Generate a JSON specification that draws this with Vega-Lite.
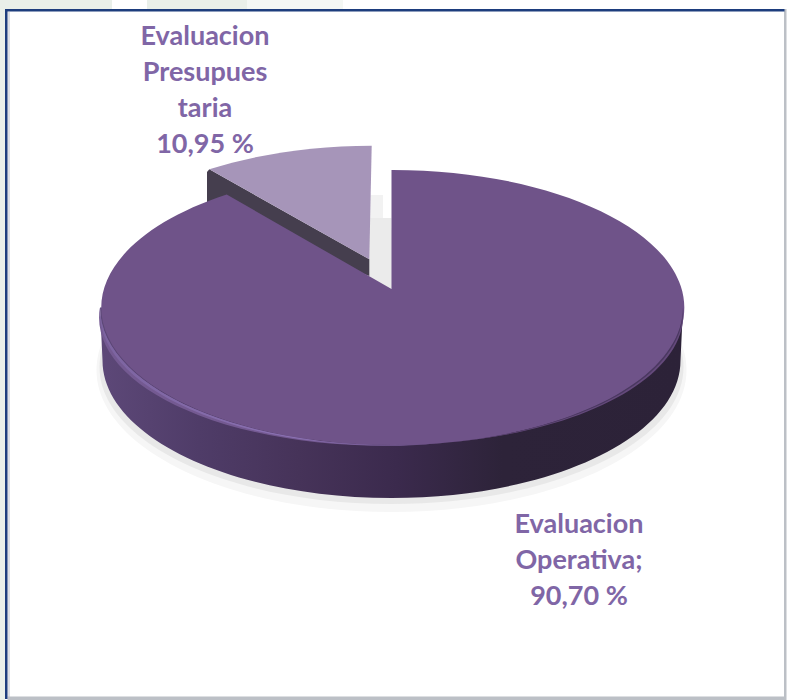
{
"$schema":"https://vega.github.io/schema/vega-lite/v6.json",
"width":787,"height":700,"padding":0,"autosize":"none","background":"#ffffff",
"config":{"view":{"stroke":null}},
"data":{"values":[
{"categoria":"Evaluacion Operativa","valor":90.70,"etiqueta":["Evaluacion","Operativa;","90,70 %"]},
{"categoria":"Evaluacion Presupuestaria","valor":10.95,"etiqueta":["Evaluacion","Presupues","taria","10,95 %"]}
]},
"layer":[
{"transform":[{"filter":"datum.valor>50"}],"mark":{"type":"point","filled":true,"opacity":1,"size":4,"strokeWidth":0,"fill":"#e9efe9","shape":"M-393.5,-350 H-388.5 V350 H-393.5 Z M-388.5,-350 H-281.5 V-341 H-388.5 Z M-246.5,-350 H-146.5 V-341 H-246.5 Z"}},
{"transform":[{"filter":"datum.valor>50"}],"mark":{"type":"point","filled":true,"opacity":1,"size":4,"strokeWidth":0,"fill":"#f4f7f4","shape":"M-146.5,-350 H-50.5 V-341 H-146.5 Z"}},
{"transform":[{"filter":"datum.valor>50"}],"mark":{"type":"point","filled":true,"opacity":1,"size":4,"strokeWidth":0,"fill":"#dcdfe4","shape":"M-386,-338 H-383.5 V347 H-386 Z"}},
{"transform":[{"filter":"datum.valor>50"}],"mark":{"type":"point","filled":true,"opacity":1,"size":4,"strokeWidth":0,"fill":"#bcc0c6","shape":"M390.5,-341 H393 V350 H390.5 Z M-386,346.5 H393 V350 H-386 Z"}},
{"transform":[{"filter":"datum.valor>50"}],"mark":{"type":"point","filled":true,"opacity":1,"size":4,"strokeWidth":0,"fill":"#1d3d7d","shape":"M-388.5,-341 H-386 V349 H-388.5 Z M-388.5,-341 H391 V-338.5 H-388.5 Z"}},
{"transform":[{"filter":"datum.valor>50"}],"mark":{"type":"point","filled":true,"opacity":1,"size":4,"strokeWidth":0,"fill":"#f6f6f6","shape":"M-297,20 A295,142 0 1 0 293,20 A295,142 0 1 0 -297,20 Z"}},
{"transform":[{"filter":"datum.valor>50"}],"mark":{"type":"point","filled":true,"opacity":1,"size":4,"strokeWidth":0,"fill":"#e8e8e8","shape":"M-294,17 A292,137 0 1 0 290,17 A292,137 0 1 0 -294,17 Z"}},
{"transform":[{"filter":"datum.valor<50"}],"mark":{"type":"point","filled":true,"opacity":1,"size":4,"strokeWidth":0,"fill":"#f2f2f2","shape":"M-23.5,-155 H-10.5 V-130 H-23.5 Z"}},
{"transform":[{"filter":"datum.valor<50"}],"mark":{"type":"point","filled":true,"opacity":1,"size":4,"strokeWidth":0,"fill":"#ebebeb","shape":"M-24.5,-132 H-2 V-61 L-24.5,-74 Z"}},
{"transform":[{"filter":"datum.valor<50"}],"mark":{"type":"point","filled":true,"opacity":1,"size":4,"strokeWidth":0,"fill":"#453e4e","shape":"M-186.5,-178 L-184.2,-180.7 L-24.2,-90.7 L-24.2,-74 L-186.5,-135 Z"}},
{"transform":[{"filter":"datum.valor>50"}],"mark":{"type":"point","filled":true,"opacity":1,"size":4,"strokeWidth":0,
 "fill":{"gradient":"linear","x1":0,"y1":0,"x2":1,"y2":0,"stops":[{"offset":0,"color":"#5d4878"},{"offset":0.17,"color":"#4f3c68"},{"offset":0.34,"color":"#463359"},{"offset":0.51,"color":"#3b2a4d"},{"offset":0.69,"color":"#2d2339"},{"offset":1,"color":"#2c2238"}]},
 "shape":"M-293.5,-42.5 L-291,10.5 A289,137.5 0 0 0 287,10.5 L289.5,-42.5 Z"}},
{"mark":{"type":"point","filled":true,"opacity":1,"size":4,"strokeWidth":0},
 "encoding":{
  "shape":{"field":"categoria","type":"nominal","legend":null,"scale":{"domain":["Evaluacion Operativa","Evaluacion Presupuestaria"],"range":["M-2,-180 A291.5,137.5 0 1 1 -166.8,-155.5 L-2,-61 Z","M-184.2,-180.7 A291.5,137.5 0 0 1 -21.8,-204.3 L-24.2,-90.7 Z"]}},
  "color":{"field":"categoria","type":"nominal","legend":null,"scale":{"domain":["Evaluacion Operativa","Evaluacion Presupuestaria"],"range":["#6f5389","#a695b9"]}}
 }},
{"transform":[{"filter":"datum.valor>50"}],"mark":{"type":"point","filled":true,"opacity":1,"size":4,"strokeWidth":0,
 "fill":{"gradient":"linear","x1":0,"y1":0,"x2":1,"y2":0,"stops":[{"offset":0,"color":"#745a92"},{"offset":1,"color":"#735890"}]},
 "shape":"M-293.5,-42.5 A291.5,137.5 0 0 0 56.5,92.2 A284,128 0 0 1 -293.5,-42.5 Z"}},
{"transform":[{"filter":"datum.valor>50"}],"mark":{"type":"point","filled":true,"opacity":1,"size":4,"strokeWidth":0,
 "fill":{"gradient":"linear","x1":0,"y1":0,"x2":1,"y2":0,"stops":[{"offset":0,"color":"#7c64a0"},{"offset":0.55,"color":"#8a70b2"},{"offset":1,"color":"#6f5389"}]},
 "shape":"M-293.5,-42.5 A291.5,137.5 0 0 0 56.5,92.2 A288,132.5 0 0 1 -293.5,-42.5 Z"}},
{"transform":[{"filter":"datum.valor>50"}],"mark":{"type":"point","filled":true,"opacity":1,"size":4,"strokeWidth":0,"fill":"#64497b",
 "shape":"M289.5,-42.5 A291.5,137.5 0 0 1 56.5,92.2 A286,130 0 0 0 289.5,-42.5 Z"}},
{"transform":[{"filter":"datum.valor>50"}],"mark":{"type":"point","filled":true,"opacity":1,"size":4,"strokeWidth":0,"fill":"#4a3860",
 "shape":"M289.5,-42.5 A291.5,137.5 0 0 1 56.5,92.2 A289,134 0 0 0 289.5,-42.5 Z"}},
{"transform":[{"filter":"datum.valor>50"}],"mark":{"type":"text","font":"Lato","fontWeight":"bold","fontSize":27,"lineHeight":36,"align":"center","baseline":"middle","color":"#8066a6","dx":185.5,"dy":175},"encoding":{"text":{"field":"etiqueta"}}},
{"transform":[{"filter":"datum.valor<50"}],"mark":{"type":"text","font":"Lato","fontWeight":"bold","fontSize":27,"lineHeight":36,"align":"center","baseline":"middle","color":"#8066a6","dx":-188.5,"dy":-313},"encoding":{"text":{"field":"etiqueta"}}}
]
}
